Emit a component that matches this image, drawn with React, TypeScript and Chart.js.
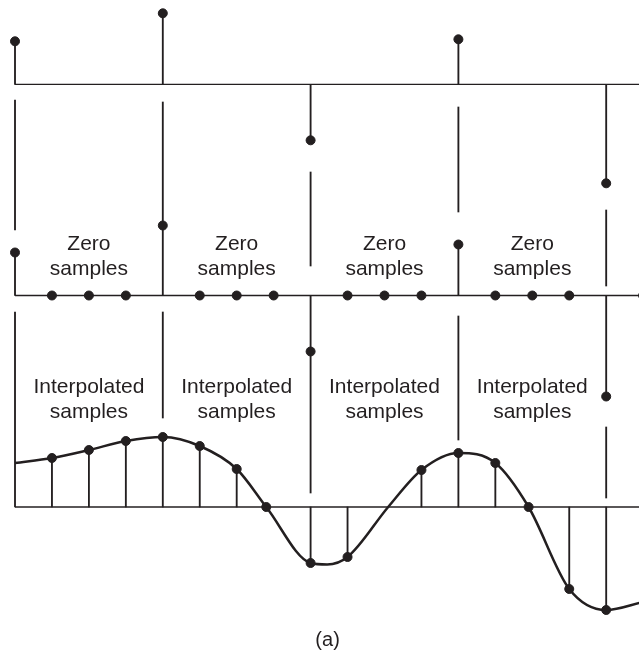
import React, { useEffect, useRef } from "react";
import { Chart, registerables } from "chart.js";

Chart.register(...registerables);

// ---- data ----
// sample index n (horizontal), amplitudes relative to each row's baseline
const sampleIdx = [0, 4, 8, 12, 16];
const originalVals = [43, 71, -56, 45, -99];
const upsampledVals = [43, 70, -56, 51, -101];
const zeroIdx = [1, 2, 3, 5, 6, 7, 9, 10, 11, 13, 14, 15, 17];

const interpIdx = [1, 2, 3, 4, 5, 6, 6.8, 8, 9, 11, 12, 13, 13.9, 15, 16];
const interpVals = [49, 57, 66, 70, 61, 38, 0, -56, -50, 37, 54, 44, 0, -82, -103];

const curveIdx = [0, 1, 2, 3, 4, 5, 6, 6.8, 8, 8.45, 9, 10.1, 11, 12, 13, 13.9, 15, 16, 17];
const curveVals = [44, 49, 57, 66, 70, 61, 38, 0, -56, -57.5, -50, 0, 37, 54, 44, 0, -82, -103, -95];

// guide lines joining the rows (upper in row-2 units, lower in row-3 units)
const upperGuideFrom = [65.5, 71.5, 29.5, 83.5, 9.5];
const upperGuideTo = [195.5, 193.5, 123.5, 188.5, 85.5];
const lowerGuideFrom = [0, 89, 14, 67, 9];
const lowerGuideTo = [195, 195, 156, 191, 80];

const labelIdx = [2, 6, 10, 14];
const zeroLabel = ["Zero", "samples"];
const interpLabel = ["Interpolated", "samples"];
const captionText = "(a)";

const INK = "#231f20";
const W = 639;
const H = 653;

const pts = (xs: number[], ys: number[]) => xs.map((x, i) => ({ x, y: ys[i] }));
const floats = (xs: number[], a: number[], b: number[]) =>
  xs.map((x, i) => ({ x, y: [a[i], b[i]] }));

const allIdx = [...sampleIdx, ...zeroIdx];
const firstIdx = Math.min(...allIdx);
const lastIdx = Math.max(...allIdx);
const baselineData = [
  { x: firstIdx, y: 0 },
  { x: lastIdx + 0.5, y: 0 },
];

const labelPlugin = {
  id: "rowLabels",
  afterDatasetsDraw(chart: any) {
    const { ctx, scales } = chart;
    const x = scales.x;
    ctx.save();
    ctx.fillStyle = INK;
    ctx.textAlign = "center";
    ctx.textBaseline = "alphabetic";
    ctx.font = '21px "Liberation Sans", Arial, sans-serif';
    labelIdx.forEach((n) => {
      const px = x.getPixelForValue(n);
      ctx.fillText(zeroLabel[0], px, scales.y2.getPixelForValue(46));
      ctx.fillText(zeroLabel[1], px, scales.y2.getPixelForValue(20.5));
      ctx.fillText(interpLabel[0], px, scales.y3.getPixelForValue(114));
      ctx.fillText(interpLabel[1], px, scales.y3.getPixelForValue(89));
    });
    ctx.font = '20px "Liberation Sans", Arial, sans-serif';
    ctx.fillText(captionText, x.getPixelForValue(8.46), scales.y3.getPixelForValue(-138.5));
    ctx.restore();
  },
};

export default function App() {
  const ref = useRef<HTMLCanvasElement | null>(null);

  useEffect(() => {
    if (!ref.current) return;
    const stem = (data: any[], axis: string) => ({
      type: "bar" as const,
      data,
      yAxisID: axis,
      backgroundColor: INK,
      borderWidth: 0,
      barThickness: 1.2,
      grouped: false,
      order: 3,
    });
    const line = (data: any[], axis: string, width: number) => ({
      type: "line" as const,
      data,
      yAxisID: axis,
      borderColor: INK,
      borderWidth: width,
      pointRadius: 0,
      fill: false,
      order: 2,
    });
    const dots = (data: any[], axis: string) => ({
      type: "line" as const,
      data,
      yAxisID: axis,
      showLine: false,
      pointRadius: 4.5,
      pointBorderWidth: 1,
      pointBackgroundColor: INK,
      pointBorderColor: INK,
      order: 1,
    });

    const chart = new Chart(ref.current, {
      type: "line",
      data: {
        datasets: [
          line(baselineData, "y1", 1.3),
          line(baselineData, "y2", 1.3),
          line(baselineData, "y3", 1.3),
          stem(pts(sampleIdx, originalVals), "y1"),
          stem(pts(sampleIdx, upsampledVals), "y2"),
          stem(pts(interpIdx, interpVals), "y3"),
          stem(floats(sampleIdx, upperGuideFrom, upperGuideTo), "y2"),
          stem(floats(sampleIdx, lowerGuideFrom, lowerGuideTo), "y3"),
          {
            ...line(pts(curveIdx, curveVals), "y3", 2.5),
            cubicInterpolationMode: "monotone" as const,
          },
          dots(pts(sampleIdx, originalVals), "y1"),
          dots(pts(sampleIdx, upsampledVals), "y2"),
          dots(pts(zeroIdx, zeroIdx.map(() => 0)), "y2"),
          dots(pts(interpIdx, interpVals), "y3"),
        ] as any,
      },
      options: {
        responsive: false,
        animation: false,
        events: [],
        layout: { padding: 0, autoPadding: false },
        plugins: { legend: { display: false }, tooltip: { enabled: false } },
        scales: {
          x: { type: "linear", min: -0.406, max: 16.888, offset: false, display: false },
          y1: { type: "linear", min: 84.3 - H, max: 84.3, display: false },
          y2: { type: "linear", min: 295.5 - H, max: 295.5, display: false },
          y3: { type: "linear", min: 507 - H, max: 507, display: false },
        },
      } as any,
      plugins: [labelPlugin],
    });
    return () => chart.destroy();
  }, []);

  return (
    <div style={{ position: "absolute", left: 0, top: 0, width: W, height: H, background: "#fff" }}>
      <canvas ref={ref} width={W} height={H} style={{ width: W, height: H }} />
    </div>
  );
}
